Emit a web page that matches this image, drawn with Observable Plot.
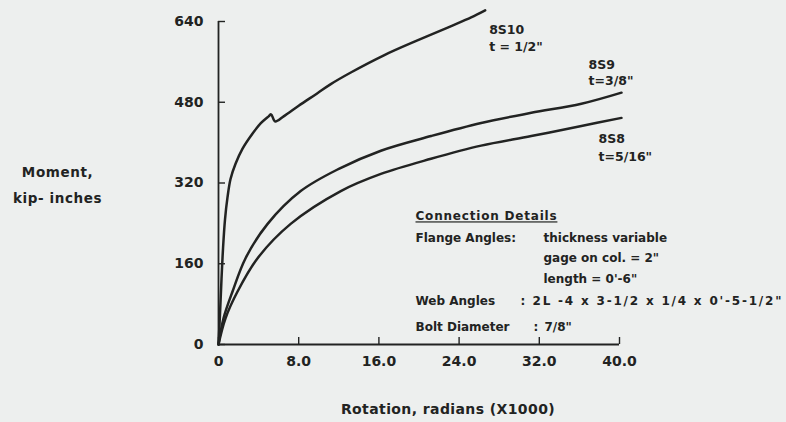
<!DOCTYPE html>
<html>
<head>
<meta charset="utf-8">
<script src="https://cdn.jsdelivr.net/npm/d3@7"></script>
<script src="https://cdn.jsdelivr.net/npm/@observablehq/plot@0.6"></script>
<style>
  html, body { margin: 0; padding: 0; background: #edefee; }
  #chart svg { display: block; }
</style>
</head>
<body>
<div id="chart"></div>
<script>
// Moment–rotation curves for three flange-angle thicknesses
const rot8S10 = [0, 0.15, 0.3, 0.45, 0.65, 0.9, 1.2, 1.7, 2.4, 3.4, 4.2, 5.0, 5.25, 5.65, 6.5, 8.0, 9.8, 11.2, 13.2, 16.5, 19.9, 23.1, 25.2, 26.6];
const mom8S10 = [0, 60, 130, 190, 248, 292, 328, 358, 388, 418, 438, 452, 456, 442, 452, 473, 497, 516, 539, 573, 603, 630, 648, 662];

const rot8S9 = [0, 0.5, 1.4, 2.7, 4.9, 8.2, 12.0, 16.2, 21.2, 26.2, 31.2, 36.2, 40.2];
const mom8S9 = [0, 52, 105, 171, 239, 304, 348, 384, 413, 439, 459, 477, 499];

const rot8S8 = [0, 0.7, 1.9, 3.9, 7.2, 12.2, 16.2, 21.2, 26.2, 31.2, 36.2, 40.2];
const mom8S8 = [0, 52, 105, 171, 239, 304, 338, 368, 394, 413, 433, 449];

const seriesNames = ["8S10", "8S9", "8S8"];
const seriesThickness = ["t = 1/2\"", "t=3/8\"", "t=5/16\""];

const xTicks = [0, 8, 16, 24, 32, 40];
const xTickLabels = ["0", "8.0", "16.0", "24.0", "32.0", "40.0"];
const yTicks = [0, 160, 320, 480, 640];
const yTickLabels = ["0", "160", "320", "480", "640"];

const xTitle = "Rotation, radians (X1000)";
const yTitle = ["Moment,", "kip- inches"];

const detailsHeading = "Connection Details";
const detailsKeys = ["Flange Angles:", "Web Angles", "Bolt Diameter"];
const flangeValues = ["thickness variable", "gage on col. = 2\"", "length = 0'-6\""];
const webValue = "2L -4 x 3-1/2 x 1/4 x 0'-5-1/2\"";
const boltValue = "7/8\"";

// Build a tidy table from the arrays
const rows = [];
[[rot8S10, mom8S10], [rot8S9, mom8S9], [rot8S8, mom8S8]].forEach(([r, m], k) => {
  r.forEach((v, i) => rows.push({series: seriesNames[k], rot: v, moment: m[i]}));
});
const ends = seriesNames.map((s, k) => {
  const pts = rows.filter(d => d.series === s);
  const last = pts[pts.length - 1];
  return {series: s, rot: last.rot, moment: last.moment, text: s + "\n" + seriesThickness[k]};
});

const xLabelOf = new Map(xTicks.map((t, i) => [t, xTickLabels[i]]));
const yLabelOf = new Map(yTicks.map((t, i) => [t, yTickLabels[i]]));

const ink = "#222322";
const font = "DejaVu Sans, sans-serif";

// one line of the details block, offset from the frame's top-left corner
const note = (text, dx, dy) =>
  Plot.text([text], {frameAnchor: "top-left", dx, dy, textAnchor: "start", lineAnchor: "middle", fontSize: 12});

const plot = Plot.plot({
  width: 786,
  height: 422,
  marginLeft: 218,
  marginRight: 167,
  marginTop: 21,
  marginBottom: 78,
  x: {domain: [0, 40], axis: null},
  y: {domain: [0, 640], axis: null},
  style: {background: "#edefee", color: ink, fontFamily: font, fontSize: "12px", fontWeight: "bold"},
  marks: [
    Plot.ruleX([0], {y1: 0, y2: 640, stroke: ink, strokeWidth: 1.8}),
    Plot.ruleY([0], {x1: 0, x2: 40, stroke: ink, strokeWidth: 1.8}),
    Plot.axisX(xTicks, {tickSize: -7, tickPadding: 19, tickFormat: d => xLabelOf.get(d), label: null, stroke: ink, strokeWidth: 1.4, fill: ink, fontSize: 14}),
    Plot.axisY(yTicks, {tickSize: -7, tickPadding: 22, tickFormat: d => yLabelOf.get(d), label: null, stroke: ink, strokeWidth: 1.4, fill: ink, fontSize: 14}),
    Plot.line(rows, {x: "rot", y: "moment", z: "series", stroke: ink, strokeWidth: 2.5, curve: "catmull-rom", strokeLinejoin: "round"}),
    // series labels, anchored at each curve's end
    Plot.text(ends.slice(0, 1), {x: "rot", y: "moment", text: "text", textAnchor: "start", dx: 4, dy: 27, lineHeight: 1.3, fontSize: 12.5}),
    Plot.text(ends.slice(1, 2), {x: "rot", y: "moment", text: "text", textAnchor: "start", dx: -33, dy: -21, lineHeight: 1.35, fontSize: 12.5}),
    Plot.text(ends.slice(2, 3), {x: "rot", y: "moment", text: "text", textAnchor: "start", dx: -23, dy: 28, lineHeight: 1.45, fontSize: 12.5}),
    // axis titles
    Plot.text([xTitle], {frameAnchor: "bottom", dx: 29, dy: 69, fontSize: 14}),
    Plot.text([yTitle.join("\n")], {frameAnchor: "left", dx: -161, dy: -1, textAnchor: "middle", lineHeight: 1.9, fontSize: 13.5}),
    // connection details block
    note(detailsHeading, 197, 195),
    note(detailsKeys[0], 197, 217),
    note(flangeValues[0], 325, 217),
    note(flangeValues[1], 325, 237),
    note(flangeValues[2], 325, 258),
    note(detailsKeys[1], 197, 280),
    note(":", 302, 280),
    note(webValue, 314, 280),
    note(detailsKeys[2], 197, 306),
    note(":", 315, 306),
    note(boltValue, 326, 306)
  ]
});

d3.select(plot).selectAll("text")
  .filter(function () { return this.textContent === detailsHeading; })
  .style("text-decoration", "underline")
  .style("letter-spacing", "0.8px");
d3.select(plot).selectAll("text")
  .filter(function () { return this.textContent === webValue; })
  .style("letter-spacing", "1.8px");
d3.select(plot).selectAll("text")
  .filter(function () { return this.textContent === xTitle; })
  .style("letter-spacing", "0.4px");
d3.select(plot).selectAll("text")
  .filter(function () { return this.textContent === yTitle.join(""); })
  .style("letter-spacing", "0.6px");

document.getElementById("chart").appendChild(plot);
</script>
</body>
</html>
